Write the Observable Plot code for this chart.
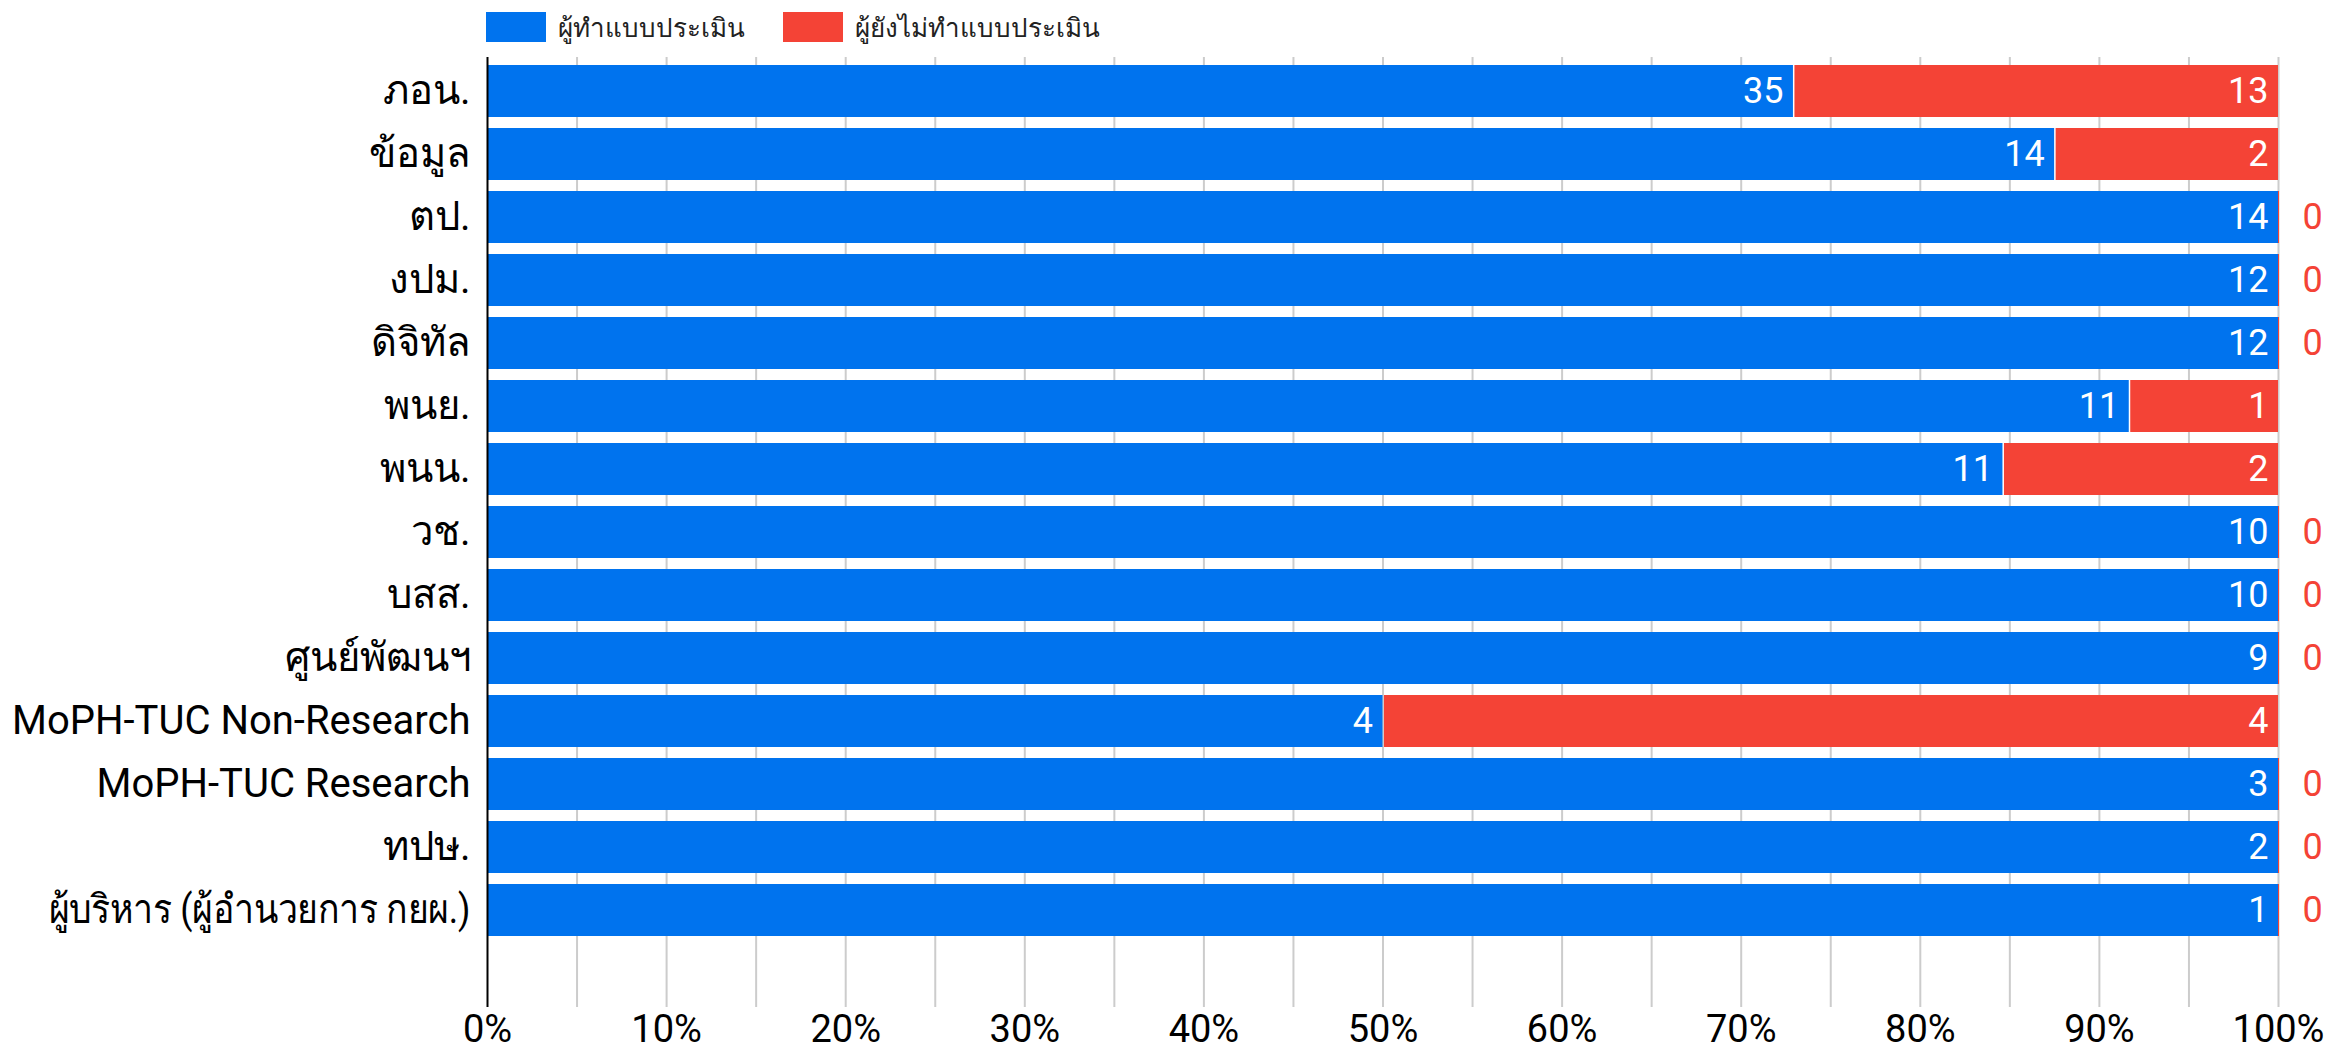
<!DOCTYPE html>
<html>
<head>
<meta charset="utf-8">
<script src="https://cdn.jsdelivr.net/npm/d3@7"></script>
<script src="https://cdn.jsdelivr.net/npm/@observablehq/plot@0.6"></script>
<style>
  html, body { margin: 0; padding: 0; background: #fff; overflow: hidden; }
  body { font-family: Roboto, "Noto Sans", sans-serif; }
  #legend { position: relative; width: 2332px; height: 50px; }
  .item { position: absolute; top: 12px; height: 30px; display: flex; align-items: center; font-size: 26px; color: #222; white-space: nowrap; }
  .sw { width: 60px; height: 30px; margin-right: 12px; flex: none; }
  #chart svg { display: block; }
</style>
</head>
<body>
<div id="legend"></div>
<div id="chart"></div>
<script>
const categories = [
  "ภอน.", "ข้อมูล", "ตป.", "งปม.", "ดิจิทัล", "พนย.", "พนน.", "วช.", "บสส.",
  "ศูนย์พัฒนฯ", "MoPH-TUC Non-Research", "MoPH-TUC Research", "ทปษ.",
  "ผู้บริหาร (ผู้อำนวยการ กยผ.)"
];
const completed    = [35, 14, 14, 12, 12, 11, 11, 10, 10, 9, 4, 3, 2, 1];
const notCompleted = [13,  2,  0,  0,  0,  1,  2,  0,  0, 0, 4, 0, 0, 0];
const seriesNames  = ["ผู้ทำแบบประเมิน", "ผู้ยังไม่ทำแบบประเมิน"];
const seriesColors = ["#0073ee", "#f44336"];
const xTickValues  = [0, 0.1, 0.2, 0.3, 0.4, 0.5, 0.6, 0.7, 0.8, 0.9, 1];
const gridValues   = [0.05, 0.1, 0.15, 0.2, 0.25, 0.3, 0.35, 0.4, 0.45, 0.5,
                      0.55, 0.6, 0.65, 0.7, 0.75, 0.8, 0.85, 0.9, 0.95, 1];

const rows = categories.map((cat, i) => ({
  cat,
  done: completed[i],
  notDone: notCompleted[i],
  total: completed[i] + notCompleted[i]
}));

// legend (HTML, above the SVG)
const legend = document.getElementById("legend");
const legendLefts = [486, 783];
seriesNames.forEach((name, i) => {
  const it = document.createElement("div");
  it.className = "item";
  it.style.left = legendLefts[i] + "px";
  const sw = document.createElement("div");
  sw.className = "sw";
  sw.style.background = seriesColors[i];
  const tx = document.createElement("span");
  tx.textContent = name;
  it.appendChild(sw);
  it.appendChild(tx);
  legend.appendChild(it);
});

const chart = Plot.plot({
  width: 2332,
  height: 1002,
  marginTop: 7,
  marginBottom: 45,
  marginLeft: 487,
  marginRight: 54,
  style: { fontFamily: "Roboto, 'Noto Sans', sans-serif", color: "#000", background: "#fff" },
  x: { domain: [0, 1], label: null },
  y: { domain: categories, paddingInner: 0.177, paddingOuter: 0.616, align: 0.103, label: null },
  marks: [
    Plot.ruleX(gridValues, { stroke: "#cccccc", strokeWidth: 2 }),
    Plot.barX(rows, { y: "cat", x1: 0, x2: d => d.done / d.total, fill: seriesColors[0] }),
    Plot.barX(rows, { y: "cat", x1: d => d.done / d.total, x2: 1, fill: seriesColors[1], insetLeft: 1.5 }),
    Plot.tickX(rows.filter(d => d.notDone === 0), { y: "cat", x: 1, stroke: seriesColors[1], strokeWidth: 1 }),
    Plot.text(rows, {
      y: "cat", x: d => d.done / d.total, text: d => String(d.done),
      textAnchor: "end", dx: -10, fill: "white", fontSize: 36
    }),
    Plot.text(rows.filter(d => d.notDone > 0), {
      y: "cat", x: 1, text: d => String(d.notDone),
      textAnchor: "end", dx: -10, fill: "white", fontSize: 36
    }),
    Plot.text(rows.filter(d => d.notDone === 0), {
      y: "cat", x: 1, text: d => String(d.notDone),
      textAnchor: "start", dx: 24, fill: seriesColors[1], fontSize: 36
    }),
    Plot.axisX({
      anchor: "bottom", ticks: xTickValues, tickFormat: d3.format(".0%"),
      tickSize: 0, tickPadding: 8, fontSize: 38, fill: "#000", label: null
    }),
    Plot.axisY({
      anchor: "left", tickSize: 0, tickPadding: 17, fontSize: 40, fill: "#000", label: null
    }),
    Plot.ruleX([0], { stroke: "#000", strokeWidth: 2 })
  ]
});
document.getElementById("chart").appendChild(chart);

// condense a y label that would overflow the left edge (reference uses a narrow Thai face)
const overflowLimit = 487 - 17 - 8;
const condensedWidth = 487 - 17 - 48;
chart.querySelectorAll('g[aria-label="y-axis tick label"] text').forEach(t => {
  const w = t.getComputedTextLength();
  if (w > overflowLimit) {
    t.setAttribute("textLength", condensedWidth);
    t.setAttribute("lengthAdjust", "spacingAndGlyphs");
  }
});
</script>
</body>
</html>
